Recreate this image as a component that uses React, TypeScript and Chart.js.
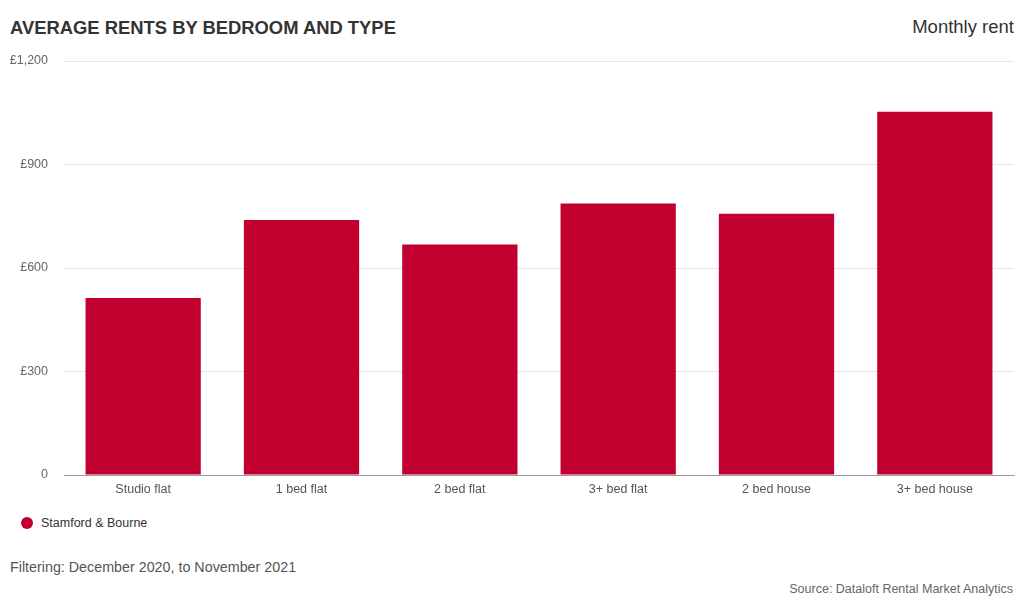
import React, { useEffect, useRef } from "react";
import { Chart, registerables } from "chart.js";

Chart.register(...registerables);

const categories = ["Studio flat", "1 bed flat", "2 bed flat", "3+ bed flat", "2 bed house", "3+ bed house"];
const rents = [513, 739, 668, 787, 757, 1053];
const yTicks = [0, 300, 600, 900, 1200];
const seriesName = "Stamford & Bourne";
const titleText = "AVERAGE RENTS BY BEDROOM AND TYPE";
const subtitleText = "Monthly rent";
const filterNote = "Filtering: December 2020, to November 2021";
const sourceNote = "Source: Dataloft Rental Market Analytics";

const BAR_COLOR = "#c1002f";
const FONT = "'Liberation Sans', Arial, Helvetica, sans-serif";

export default function App() {
  const canvasRef = useRef<HTMLCanvasElement | null>(null);

  useEffect(() => {
    document.body.style.margin = "0";
    const canvas = canvasRef.current;
    if (!canvas) return;
    const chart = new Chart(canvas, {
      type: "bar",
      data: {
        labels: categories,
        datasets: [
          {
            label: seriesName,
            data: rents,
            backgroundColor: BAR_COLOR,
            borderWidth: 0,
            categoryPercentage: 1,
            barPercentage: 0.728,
          },
        ],
      },
      options: {
        responsive: false,
        animation: false,
        devicePixelRatio: 1,
        layout: { padding: { top: 11, right: 10, left: 0, bottom: 0 } },
        plugins: {
          legend: { display: false },
          tooltip: { enabled: false },
          title: { display: false },
        },
        scales: {
          x: {
            offset: true,
            grid: { display: false, drawTicks: false },
            border: { display: true, color: "#9a9a9a", width: 1 },
            ticks: {
              color: "#555555",
              padding: 7,
              font: { family: FONT, size: 12.5 },
              maxRotation: 0,
              autoSkip: false,
            },
            afterFit: (s: any) => {
              s.height = 30;
              s.paddingLeft = 0;
              s.paddingRight = 0;
            },
          },
          y: {
            min: 0,
            max: 1200,
            afterBuildTicks: (s: any) => {
              s.ticks = yTicks.map((v) => ({ value: v }));
            },
            grid: {
              drawTicks: false,
              color: (ctx: any) => (ctx.tick && ctx.tick.value === 0 ? "rgba(0,0,0,0)" : "#e6e6e6"),
              lineWidth: 1,
            },
            border: { display: false },
            ticks: {
              color: "#666666",
              padding: 16,
              font: { family: FONT, size: 12.5 },
              callback: (v: any) => (Number(v) === 0 ? "0" : "£" + Number(v).toLocaleString("en-GB")),
            },
            afterFit: (s: any) => {
              s.width = 64;
              s.paddingTop = 0;
              s.paddingBottom = 0;
            },
          },
        },
      },
    });
    return () => chart.destroy();
  }, []);

  const base: React.CSSProperties = { position: "absolute", fontFamily: FONT, whiteSpace: "nowrap", margin: 0 };

  return (
    <div style={{ position: "relative", width: 1024, height: 614, background: "#ffffff", overflow: "hidden" }}>
      <div style={{ ...base, left: 10, top: 19, fontSize: 18.4, lineHeight: "18.4px", fontWeight: 700, color: "#333333" }}>
        {titleText}
      </div>
      <div style={{ ...base, right: 10, top: 18, fontSize: 18.5, lineHeight: "18.5px", color: "#333333" }}>
        {subtitleText}
      </div>
      <canvas
        ref={canvasRef}
        width={1024}
        height={455}
        style={{ position: "absolute", left: 0, top: 50, width: 1024, height: 455, display: "block" }}
      />
      <div
        style={{
          position: "absolute",
          left: 20.7,
          top: 517.3,
          width: 12,
          height: 12,
          borderRadius: "50%",
          background: BAR_COLOR,
        }}
      />
      <div style={{ ...base, left: 41, top: 516.7, fontSize: 12.5, lineHeight: "12.5px", color: "#333333" }}>
        {seriesName}
      </div>
      <div style={{ ...base, left: 10, top: 560.4, fontSize: 14.3, lineHeight: "14.3px", color: "#555555" }}>
        {filterNote}
      </div>
      <div style={{ ...base, right: 11, top: 583, fontSize: 12.5, lineHeight: "12.5px", color: "#666666" }}>
        {sourceNote}
      </div>
    </div>
  );
}
